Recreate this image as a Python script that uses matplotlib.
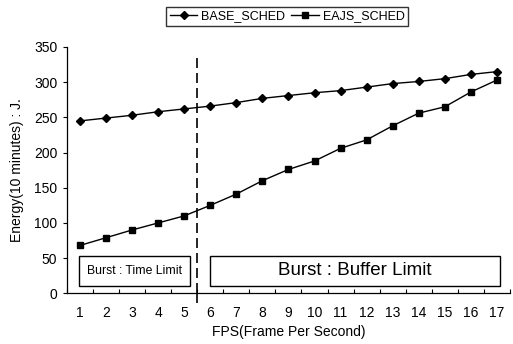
import matplotlib
matplotlib.use("Agg")
import matplotlib.pyplot as plt
from matplotlib.patches import Rectangle

plt.rcParams['font.family'] = ['Liberation Sans', 'DejaVu Sans']

fps = list(range(1, 18))
base_sched = [245, 249, 253, 258, 262, 266, 271, 277, 281, 285, 288, 293, 298, 301, 305, 311, 315]
eajs_sched = [68, 79, 90, 100, 110, 125, 141, 160, 176, 188, 206, 218, 238, 256, 265, 286, 303]
y_ticks = [0, 50, 100, 150, 200, 250, 300, 350]
series_names = ["BASE_SCHED", "EAJS_SCHED"]
x_label = "FPS(Frame Per Second)"
y_label = "Energy(10 minutes) : J."
region_labels = ["Burst : Time Limit", "Burst : Buffer Limit"]

fig = plt.figure(figsize=(5.13, 3.44), dpi=100)
ax = fig.add_axes([0.1306, 0.1474, 0.8634, 0.716])

l1, = ax.plot(fps, base_sched, color='black', lw=1.0, marker='D', ms=4, label=series_names[0])
l2, = ax.plot(fps, eajs_sched, color='black', lw=1.0, marker='s', ms=4.5, label=series_names[1])

ax.set_xlim(0.5, 17.5)
ax.set_ylim(0, 350)
ax.set_yticks(y_ticks)
ax.set_xticks(fps)
ax.set_xticks([i + 0.5 for i in range(0, 18)], minor=True)
ax.tick_params(axis='x', which='major', length=0, pad=9, labelsize=10)
ax.tick_params(axis='x', which='minor', direction='in', length=3, width=0.8)
ax.tick_params(axis='y', which='major', direction='out', length=3, width=0.8, labelsize=10, pad=4)

for s in ['top', 'right']:
    ax.spines[s].set_visible(False)
for s in ['left', 'bottom']:
    ax.spines[s].set_linewidth(0.9)

ax.set_xlabel(x_label, fontsize=10, labelpad=4)
ax.set_ylabel(y_label, fontsize=10, labelpad=7)

# divider line
ax.axvline(5.5, ymin=0, ymax=0.97, color='black', lw=1.2, ls=(0, (6, 3)), clip_on=False)
ax.plot([5.5, 5.5], [0, -20], color='black', lw=1.2, ls=(0, (6, 3)), clip_on=False)

# region boxes
ax.add_patch(Rectangle((0.95, 11), 4.28, 42, fill=False, lw=1.0, ec='black'))
ax.text(0.95 + 4.28 / 2, 32, region_labels[0], ha='center', va='center', fontsize=8.8)
ax.add_patch(Rectangle((5.99, 11), 11.13, 42, fill=False, lw=1.0, ec='black'))
ax.text(5.99 + 11.13 / 2, 32, region_labels[1], ha='center', va='center', fontsize=13.5)

leg = fig.legend(handles=[l1, l2], loc='center', bbox_to_anchor=(0.560, 0.952), ncol=2,
                 frameon=True, fancybox=False, fontsize=9, handlelength=2.2,
                 handletextpad=0.3, columnspacing=0.5, borderpad=0.3, borderaxespad=0)
leg.get_frame().set_edgecolor('black')
leg.get_frame().set_linewidth(1.0)

fig.savefig("out.png", dpi=100)
